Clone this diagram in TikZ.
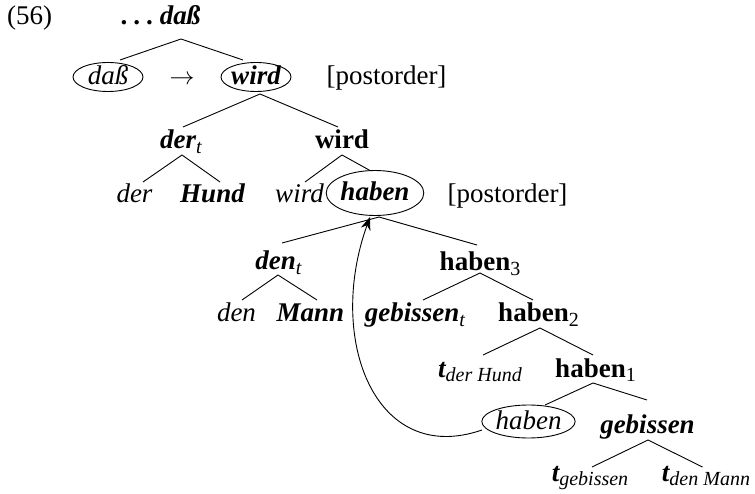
\documentclass[tikz,border=0pt]{standalone}
\usepackage{fontspec}
\setmainfont{Liberation Serif}
\usetikzlibrary{shapes.geometric,arrows.meta}
\newcommand{\sbx}[1]{\raisebox{-4.5pt}{\fontsize{20}{20}\selectfont\mdseries #1}}
\newcommand{\br}[4]{\draw[br] ([shift={#2}]#1) -- ([shift={#4}]#3);}
\begin{document}
\begin{tikzpicture}[x=1pt,y=-1pt,
 lab/.style={inner xsep=0pt,inner ysep=0pt,text height=18pt,text depth=5pt,anchor=base,font=\fontsize{27}{32}\selectfont},
 bi/.style={lab,font=\fontsize{27}{32}\selectfont\bfseries\itshape},
 it/.style={lab,font=\fontsize{27}{32}\selectfont\itshape},
 bf/.style={lab,font=\fontsize{27}{32}\selectfont\bfseries},
 ell/.style={draw,ellipse,inner sep=0pt,text height=16pt,text depth=0pt,anchor=center,line width=0.9pt},
 br/.style={line width=0.9pt}]
\useasboundingbox (0,0) rectangle (755,494);
\node[lab,anchor=base west] (ex) at (7,25) {(56)};
\node[bi] (top) at (161,25) {.\kern6pt.\kern6pt.\kern6pt daß};
\node[it,ell,minimum width=70pt,minimum height=29pt] (E1) at (108,77) {daß};
\node[lab] (arr) at (182,85) {$\rightarrow$};
\node[bi,ell,minimum width=68pt,minimum height=29pt] (E2) at (256,77) {wird};
\node[lab] (post1) at (386.5,85) {[postorder]};
\node[bi] (dert) at (181,149) {der\sbx{t}};
\node[bf] (wirdB) at (342,149) {wird};
\node[it] (der) at (134.5,203) {der};
\node[bi] (Hund) at (212.5,203) {Hund};
\node[it] (wirdI) at (299.5,203) {wird};
\node[bi,ell,minimum width=94pt,minimum height=45pt] (E3) at (375,193) {haben};
\node[lab] (post2) at (507.5,203) {[postorder]};
\node[bi] (dent) at (278.5,270) {den\sbx{t}};
\node[bf] (haben3) at (480,271) {haben\sbx{3}};
\node[it] (den) at (236.5,322) {den};
\node[bi] (Mann) at (310.5,322) {Mann};
\node[bi] (gebt) at (415,322) {gebissen\sbx{t}};
\node[bf] (haben2) at (538.5,322) {haben\sbx{2}};
\node[bi] (tdh) at (480,377) {t\sbx{der Hund}};
\node[bf] (haben1) at (595.5,377) {haben\sbx{1}};
\node[it,ell,minimum width=93pt,minimum height=33pt] (E4) at (528.5,421.5) {haben};
\node[bi] (gebissen) at (647.5,433) {gebissen};
\node[bi] (tgeb) at (590,481) {t\sbx{gebissen}};
\node[bi] (tdm) at (706,481) {t\sbx{den Mann}};
\br{top.base}{(20,14)}{E1.center}{(12,-17)}
\br{top.base}{(20,14)}{E2.center}{(-13,-17)}
\br{E2.center}{(4,17)}{dert.base}{(2,-22)}
\br{E2.center}{(4,17)}{wirdB.base}{(-4,-22)}
\br{dert.base}{(1,6)}{der.base}{(8.5,-21)}
\br{dert.base}{(1,6)}{Hund.base}{(7.5,-21)}
\br{wirdB.base}{(0,6)}{wirdI.base}{(5.5,-21)}
\br{wirdB.base}{(0,6)}{E3.center}{(-5,-22.5)}
\br{E3.center}{(4,24)}{dent.base}{(3.5,-27)}
\br{E3.center}{(4,24)}{haben3.base}{(-3,-26)}
\br{dent.base}{(-0.5,5)}{den.base}{(5.5,-22)}
\br{dent.base}{(-0.5,5)}{Mann.base}{(6.5,-22)}
\br{haben3.base}{(0,2)}{gebt.base}{(8,-22)}
\br{haben3.base}{(0,2)}{haben2.base}{(-5.5,-22)}
\br{haben2.base}{(1.5,6)}{tdh.base}{(3,-22)}
\br{haben2.base}{(1.5,6)}{haben1.base}{(-2.5,-22)}
\br{haben1.base}{(-2.5,6)}{E4.center}{(16.5,-16.5)}
\br{haben1.base}{(-2.5,6)}{gebissen.base}{(-0.5,-33)}
\br{gebissen.base}{(0.5,7)}{tgeb.base}{(2,-14)}
\br{gebissen.base}{(0.5,7)}{tdm.base}{(-3.5,-14)}
\draw[br,-{Stealth[length=13pt,width=10pt]}] ([shift={(-46.5,8.5)}]E4.center) .. controls (375,467) and (326,339) .. ([shift={(-5,24)}]E3.center);
\end{tikzpicture}
\end{document}
